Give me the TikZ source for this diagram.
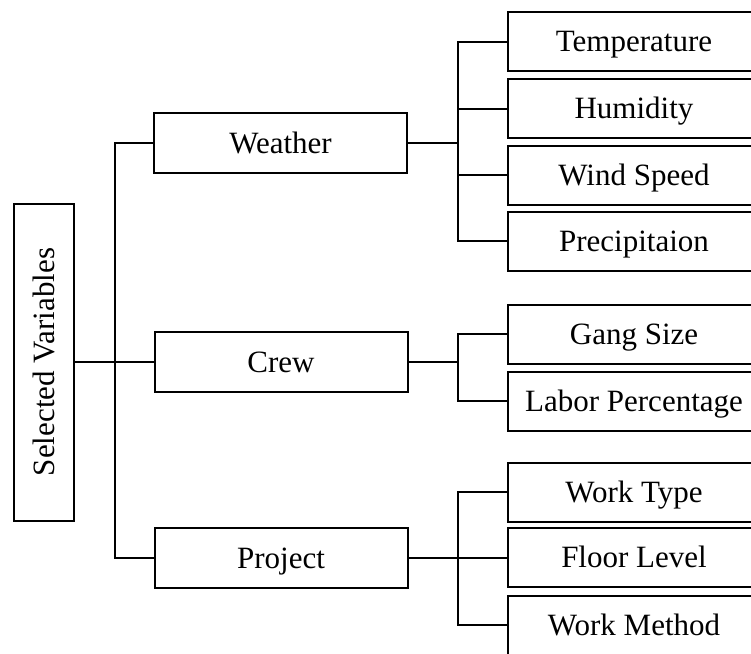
\documentclass[tikz,border=0pt]{standalone}
\usepackage{fontspec}
\setmainfont{Liberation Serif}
\begin{document}
\begin{tikzpicture}[x=1pt,y=-1pt,
  line width=2pt,
  box/.style={draw, line width=2pt, inner sep=0pt,
    text height=20.5pt, text depth=0pt,
    font=\fontsize{31}{37}\selectfont},
  midbox/.style={box, minimum width=253pt, minimum height=60pt},
  leafbox/.style={box, minimum width=252pt, minimum height=59pt},
  link/.style={draw, line width=2pt}]
\useasboundingbox (0,0) rectangle (751,653);
\clip (0,0) rectangle (751,653);

% root
\node[box, rotate=90, minimum width=317pt, minimum height=60pt] (root) at (44,362) {Selected Variables};

% middle level
\node[midbox] (weather) at (280.5,143) {Weather};
\node[midbox] (crew)    at (281,362)   {Crew};
\node[midbox] (project) at (281,558)   {Project};

% leaves
\node[leafbox] (temp)  at (634,41.5)  {Temperature};
\node[leafbox] (hum)   at (634,108.5) {Humidity};
\node[leafbox] (wind)  at (634,175)   {Wind Speed};
\node[leafbox] (prec)  at (634,241)   {Precipitaion};
\node[leafbox] (gang)  at (634,334)   {Gang Size};
\node[leafbox] (labor) at (634,401)   {Labor Percentage};
\node[leafbox] (wtype) at (634,492)   {Work Type};
\node[leafbox] (floor) at (634,557.5) {Floor Level};
\node[leafbox] (wmeth) at (634,625)   {Work Method};

% junction points
\coordinate (tr) at (115,362);
\coordinate (wj) at (458,143);
\coordinate (cj) at (458,362);
\coordinate (pj) at (458,558);

% root to middle level
\draw[link] (root.south) -- (crew.west);
\draw[link] (weather.west) -| (tr) |- (project.west);

% weather branch
\draw[link] (weather.east) -- (wj);
\draw[link] (temp.west) -| (wj) |- (prec.west);
\draw[link] (hum.west) -- (hum.west -| wj);
\draw[link] (wind.west) -- (wind.west -| wj);

% crew branch
\draw[link] (crew.east) -- (cj);
\draw[link] (gang.west) -| (cj) |- (labor.west);

% project branch
\draw[link] (project.east) -- (pj);
\draw[link] (wtype.west) -| (pj) |- (wmeth.west);
\draw[link] (floor.west) -- (floor.west -| pj);
\end{tikzpicture}
\end{document}
